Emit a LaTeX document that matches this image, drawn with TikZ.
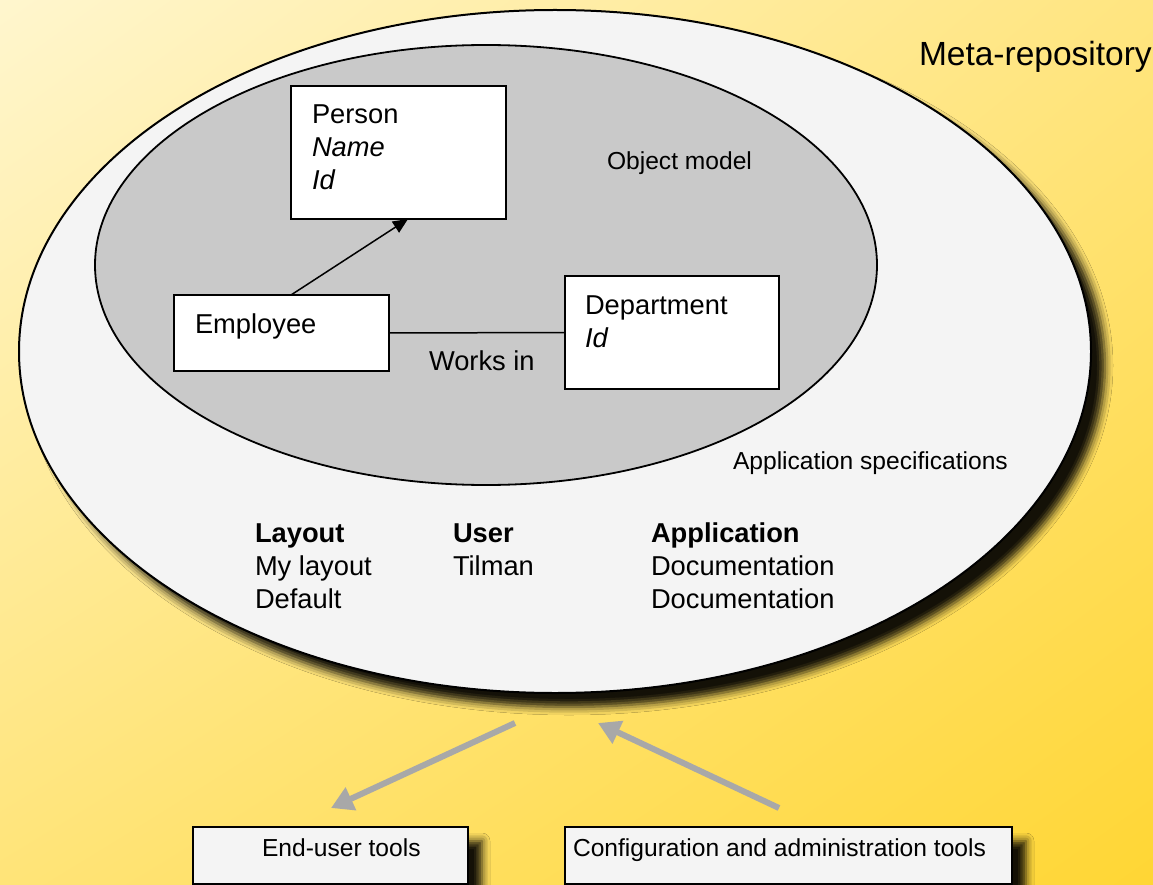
\documentclass[tikz,border=0pt]{standalone}
\usepackage{fontspec}
\setmainfont{Liberation Sans}
\usetikzlibrary{shapes.geometric,arrows.meta,shadows.blur,shadings,calc}

% background and fill colours
\definecolor{bgTL}{RGB}{255,246,206}
\definecolor{bgTR}{RGB}{255,229,128}
\definecolor{bgBL}{RGB}{255,228,120}
\definecolor{bgBR}{RGB}{255,214,52}
\definecolor{repofill}{RGB}{244,244,244}
\definecolor{modelfill}{RGB}{201,201,201}
\definecolor{toolarrow}{RGB}{168,168,168}

\begin{document}
\begin{tikzpicture}[x=1pt,y=-1pt,
  every node/.style={inner sep=0pt, outer sep=0pt},
  txt/.style={anchor=base west, font=\fontsize{27.3}{33}\selectfont},
  smalltxt/.style={anchor=base west, font=\fontsize{24.6}{30}\selectfont},
  bigtxt/.style={anchor=base west, font=\fontsize{33.5}{40}\selectfont},
  entity/.style={rectangle, draw=black, line width=1.8pt, fill=white},
  toolbox/.style={rectangle, draw=black, line width=2pt, fill=repofill},
  dropshadow/.style={blur shadow={shadow xshift=14pt, shadow yshift=-14pt,
      shadow blur radius=8pt, shadow opacity=92}},
  toolarrowstyle/.style={draw=toolarrow, line width=6pt,
      -{Triangle[length=22pt,width=24pt]}},
]
\useasboundingbox (0,0) rectangle (1153,885);
\clip (0,0) rectangle (1153,885);

% yellow backdrop
\shade[upper left=bgTL, upper right=bgTR, lower left=bgBL, lower right=bgBR]
  (0,0) rectangle (1153,885);

% meta-repository and object model ellipses
\node[ellipse, draw=black, line width=2pt, fill=repofill, dropshadow,
      minimum width=1072pt, minimum height=683pt] (repo) at (555,351.5) {};
\node[ellipse, draw=black, line width=1.8pt, fill=modelfill,
      minimum width=782pt, minimum height=440pt] (model) at (486,265) {};

\node[bigtxt] (repolbl) at (919,66) {Meta-repository};
\node[smalltxt] (modellbl) at (607,170) {Object model};
\node[smalltxt] (speclbl) at (733,469) {Application specifications};

% object model entities
\node[entity, minimum width=215pt, minimum height=133pt] (person) at (398.5,152.5) {};
\node[txt] (person1) at (312,124) {Person};
\node[txt] (person2) at (312,157) {\itshape Name};
\node[txt] (person3) at (312,190) {\itshape Id};

\node[entity, minimum width=215pt, minimum height=76pt] (employee) at (281.5,333) {};
\node[txt] (employee1) at (195,333) {Employee};

\node[entity, minimum width=214pt, minimum height=113pt] (department) at (672,332.5) {};
\node[txt] (department1) at (585,314) {Department};
\node[txt] (department2) at (585,347) {\itshape Id};

% relations
\draw[line width=1.5pt, -{Triangle[length=15pt,width=13pt]}]
  ($(employee.north)+(9.5,0)$) -- ($(person.south)+(9.5,0)$);
\draw[line width=1.5pt] (employee.east) -- (department.west);
\node[txt] (worksin) at (429,370) {Works in};

% application specification table
\node[txt, font=\fontsize{27.3}{33}\selectfont\bfseries] (layouthd) at (255,542) {Layout};
\node[txt] (layout1) at (255,575) {My layout};
\node[txt] (layout2) at (255,608) {Default};
\node[txt, font=\fontsize{27.3}{33}\selectfont\bfseries] (userhd) at (453,542) {User};
\node[txt] (user1) at (453,575) {Tilman};
\node[txt, font=\fontsize{27.3}{33}\selectfont\bfseries] (apphd) at (651,542) {Application};
\node[txt] (app1) at (651,575) {Documentation};
\node[txt] (app2) at (651,608) {Documentation};

% tools
\node[toolbox, dropshadow, minimum width=275pt, minimum height=57pt] (enduser) at (330.5,855.5) {};
\node[smalltxt] (enduserlbl) at (262,856) {End-user tools};
\node[toolbox, dropshadow, minimum width=447pt, minimum height=57pt] (config) at (788.5,855.5) {};
\node[smalltxt] (configlbl) at (573,856) {Configuration and administration tools};

% tool access arrows
\coordinate (outstart) at (515,723);
\coordinate (outend) at (331,808);
\coordinate (instart) at (779,808);
\coordinate (inend) at (598,723);
\draw[toolarrowstyle] (outstart) -- (outend);
\draw[toolarrowstyle] (instart) -- (inend);
\end{tikzpicture}
\end{document}
